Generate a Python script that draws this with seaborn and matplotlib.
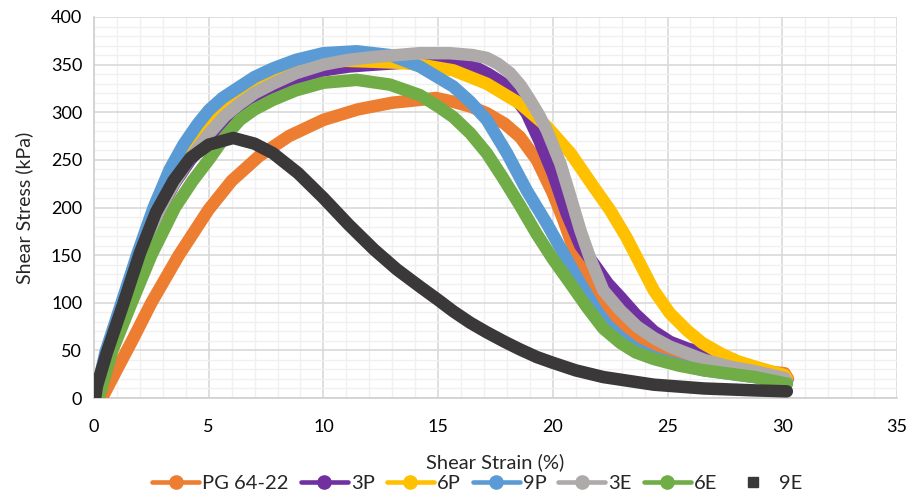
import matplotlib
matplotlib.use("Agg")
import matplotlib.pyplot as plt
from matplotlib.lines import Line2D
from matplotlib.ticker import MultipleLocator
import seaborn as sns
import pandas as pd

series_names = ["PG 64-22", "3P", "6P", "9P", "3E", "6E", "9E"]

pg_x = [0.35, 1.0, 1.7, 2.5, 3.7, 5.0, 6.0, 7.2, 8.5, 10.0, 11.5, 13.0, 14.2, 14.9, 15.66, 16.4, 17.12, 17.9, 18.57, 19.3, 20.0, 20.46, 21.0, 21.77, 22.4, 22.94, 23.6, 24.4, 25.5, 26.6, 27.7, 28.8, 30.1, 30.25]
pg_y = [0, 30, 62, 100, 150, 198, 228, 254, 275, 292, 303, 310, 313, 315, 311, 306, 299, 288, 274, 250, 215, 187, 150, 110, 88, 75, 62, 52, 42, 36, 32, 29, 26, 20]

p3_x = [0.1, 0.6, 1.3, 2.0, 2.8, 3.5, 4.2, 5.0, 5.7, 6.36, 7.0, 7.8, 8.8, 10.0, 11.1, 12.2, 13.5, 14.5, 15.5, 16.4, 17.2, 17.85, 18.4, 18.86, 19.4, 20.0, 20.6, 21.2, 21.9, 22.4, 22.94, 23.6, 24.4, 25.1, 25.85, 26.6, 27.3, 27.9]
p3_y = [0, 47, 98, 148, 193, 225, 250, 272, 290, 304, 315, 326, 336, 344, 348, 350, 352, 353, 353, 350, 340, 330, 314, 299, 271, 236, 194, 160, 137, 120, 106, 88, 70, 59, 52, 47, 44, 40]

p6_x = [0.05, 0.6, 1.3, 2.0, 2.7, 3.4, 4.1, 4.8, 5.5, 6.36, 7.0, 7.8, 8.8, 10.0, 11.0, 12.2, 13.2, 14.2, 15.66, 17.12, 18.57, 19.74, 20.77, 21.77, 22.5, 23.2, 23.8, 24.4, 25.1, 25.85, 26.5, 27.3, 28.0, 28.8, 30.1, 30.2]
p6_y = [0, 48, 100, 150, 193, 228, 257, 280, 299, 318, 330, 340, 347, 353, 354, 353, 352, 350, 344, 330, 309, 285, 257, 222, 197, 169, 141, 113, 89, 71, 58, 47, 39, 33, 24, 20]

p9_x = [0.05, 0.5, 1.2, 1.9, 2.6, 3.3, 3.9, 4.5, 5.0, 5.6, 6.36, 7.0, 7.8, 8.8, 10.0, 11.45, 12.9, 14.2, 15.66, 16.4, 17.12, 18.0, 18.86, 19.74, 20.46, 21.2, 21.9, 22.4, 22.94, 23.6, 24.4, 25.5, 26.6, 28.8, 30.2]
p9_y = [0, 48, 100, 152, 200, 240, 266, 287, 302, 315, 327, 337, 346, 355, 362, 364, 360, 348, 327, 311, 292, 257, 218, 183, 152, 120, 92, 76, 64, 52, 43, 35, 29, 22, 17]

e3_x = [0.1, 0.6, 1.3, 2.0, 2.8, 3.5, 4.2, 5.0, 5.7, 6.36, 7.0, 7.8, 8.8, 10.0, 11.1, 12.2, 14.2, 15.5, 16.5, 17.12, 17.6, 18.14, 18.6, 19.0, 19.4, 19.74, 20.33, 20.77, 21.2, 21.65, 22.2, 22.94, 23.67, 24.4, 25.1, 26.6, 27.7, 28.8, 30.1, 30.2]
e3_y = [0, 47, 98, 148, 194, 226, 252, 277, 296, 309, 320, 330, 341, 350, 355, 358, 362, 362, 360, 357, 351, 341, 328, 313, 297, 281, 246, 211, 176, 145, 113, 92, 75, 63, 54, 40, 33, 28, 21, 15]

e6_x = [0.2, 0.8, 1.64, 2.5, 3.53, 4.3, 5.06, 5.7, 6.36, 7.0, 7.8, 8.8, 10.0, 11.45, 12.9, 14.2, 15.0, 15.66, 16.4, 17.12, 17.8, 18.57, 19.3, 20.0, 20.77, 21.5, 22.2, 22.94, 23.6, 24.4, 25.5, 26.6, 28.8, 30.2]
e6_y = [0, 50, 100, 150, 200, 228, 252, 274, 292, 303, 313, 323, 331, 334, 329, 318, 306, 295, 278, 257, 232, 202, 172, 146, 120, 95, 73, 58, 48, 41, 34, 29, 22, 15]

e9_x = [0.05, 0.12, 0.55, 1.28, 2.0, 2.7, 3.46, 4.2, 5.0, 6.07, 7.0, 7.8, 8.9, 10.0, 11.1, 12.2, 13.2, 14.2, 15.0, 15.66, 16.4, 17.12, 17.9, 18.57, 19.3, 20.0, 21.0, 22.2, 23.3, 24.4, 25.5, 26.6, 28.8, 30.2]
e9_y = [0, 12, 47, 99, 152, 195, 228, 252, 266, 273, 267, 257, 236, 210, 182, 156, 135, 117, 103, 91, 79, 69, 59, 51, 43, 37, 29, 22, 18, 14, 12, 10, 8, 7]

series_x = [pg_x, p3_x, p6_x, p9_x, e3_x, e6_x, e9_x]
series_y = [pg_y, p3_y, p6_y, p9_y, e3_y, e6_y, e9_y]
colors = ["#ED7D31", "#7030A0", "#FFC000", "#5B9BD5", "#ADAAA9", "#70AD47", "#3A3838"]

x_label = "Shear Strain (%)"
y_label = "Shear Stress (kPa)"

frames = []
for name, xs, ys in zip(series_names, series_x, series_y):
    frames.append(pd.DataFrame({"series": name, "strain": xs, "stress": ys}))
df = pd.concat(frames, ignore_index=True)

sns.set_style("white")
plt.rcParams["font.family"] = ["Lato", "DejaVu Sans"]

fig = plt.figure(figsize=(9.18, 4.94), dpi=100)
ax = fig.add_axes([0.1024, 0.1943, 0.8747, 0.7713])

for i, (name, col) in enumerate(zip(series_names, colors)):
    sub = df[df["series"] == name]
    sns.lineplot(data=sub, x="strain", y="stress", ax=ax, color=col, sort=False,
                 estimator=None, linewidth=9.0, solid_capstyle="round",
                 solid_joinstyle="round", zorder=3 + i, legend=False)

ax.set_xlim(0, 35)
ax.set_ylim(0, 400)
ax.xaxis.set_major_locator(MultipleLocator(5))
ax.xaxis.set_minor_locator(MultipleLocator(1))
ax.yaxis.set_major_locator(MultipleLocator(50))
ax.yaxis.set_minor_locator(MultipleLocator(10))
ax.grid(True, which="major", color="#D9D9D9", linewidth=1.2, zorder=0)
ax.grid(True, which="minor", color="#F0F0F0", linewidth=1.0, zorder=0)
ax.set_axisbelow(True)
for s in ["top", "right"]:
    ax.spines[s].set_visible(False)
for s in ["left", "bottom"]:
    ax.spines[s].set_color("#D0D0D0")
    ax.spines[s].set_linewidth(1.2)
ax.tick_params(axis="both", which="both", length=0, labelsize=13, colors="#000000")
ax.tick_params(axis="x", pad=15)
ax.tick_params(axis="y", pad=8.5)
ax.set_xlabel(x_label, fontsize=14.5, labelpad=13)
ax.set_ylabel(y_label, fontsize=14, labelpad=13)

handles = []
for name, col in zip(series_names, colors):
    if name == "9E":
        handles.append(Line2D([], [], color=col, linestyle="none", marker="s", markersize=7.5))
    else:
        handles.append(Line2D([], [], color=col, linewidth=3.3, marker="o", markersize=9.5))
fig.legend(handles, series_names, loc="center", bbox_to_anchor=(0.52, 0.022), ncol=7,
           frameon=False, fontsize=14.5, handlelength=2.33, columnspacing=0.6,
           handletextpad=0.15, borderpad=0.0)

fig.savefig("out.png", dpi=100)
